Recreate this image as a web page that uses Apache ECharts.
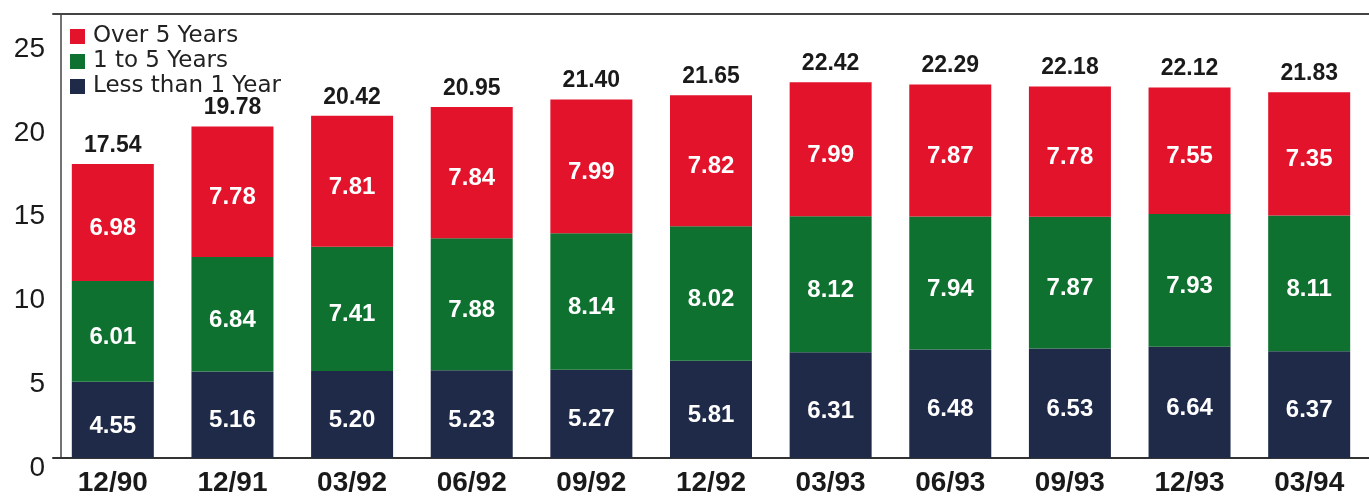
<!DOCTYPE html>
<html>
<head>
<meta charset="utf-8">
<script src="https://cdn.jsdelivr.net/npm/echarts@6/dist/echarts.min.js"></script>
<style>
  html, body { margin: 0; padding: 0; background: #fff; }
  #chart { width: 1369px; height: 497px; }
</style>
</head>
<body>
<div id="chart"></div>
<script>
const categories = ["12/90", "12/91", "03/92", "06/92", "09/92", "12/92", "03/93", "06/93", "09/93", "12/93", "03/94"]
const lessThan1 = [4.55, 5.16, 5.20, 5.23, 5.27, 5.81, 6.31, 6.48, 6.53, 6.64, 6.37]
const oneTo5 = [6.01, 6.84, 7.41, 7.88, 8.14, 8.02, 8.12, 7.94, 7.87, 7.93, 8.11]
const over5 = [6.98, 7.78, 7.81, 7.84, 7.99, 7.82, 7.99, 7.87, 7.78, 7.55, 7.35]
const totals = [17.54, 19.78, 20.42, 20.95, 21.40, 21.65, 22.42, 22.29, 22.18, 22.12, 21.83]
const yTicks = [0, 5, 10, 15, 20, 25]

const font = "Liberation Sans, Arial, sans-serif"

const innerLabel = {
    show: true,
    position: "inside",
    offset: [0, 6],
    color: "#fff",
    fontFamily: font,
    fontWeight: "bold",
    fontSize: 24,
    formatter: (p) => p.value.toFixed(2),
}

const chart = echarts.init(document.getElementById("chart"))

chart.setOption({
    animation: false,
    textStyle: { fontFamily: font },
    legend: {
        orient: "vertical",
        left: 65,
        top: 19,
        itemWidth: 15,
        itemHeight: 15,
        itemGap: 0,
        icon: "rect",
        textStyle: {
            fontFamily: "DejaVu Sans, sans-serif",
            fontSize: 23,
            lineHeight: 25,
            color: "#222",
            padding: [0, 0, 0, 3],
        },
        data: ["Over 5 Years", "1 to 5 Years", "Less than 1 Year"],
    },
    grid: {
        left: 53,
        right: -15,
        top: 14,
        bottom: 37,
    },
    xAxis: [
        {
            type: "category",
            data: categories,
            axisLine: { show: true, lineStyle: { color: "#333", width: 2 } },
            axisTick: { show: false },
            axisLabel: {
                margin: 11,
                fontSize: 28,
                fontWeight: "bold",
                color: "#1a1a1a",
            },
        },
        {
            type: "category",
            position: "top",
            data: categories,
            axisLine: { show: true, lineStyle: { color: "#444", width: 2 } },
            axisTick: { show: false },
            axisLabel: { show: false },
        },
    ],
    yAxis: {
        type: "value",
        min: 0,
        max: 26.5,
        interval: 5,
        offset: -8,
        splitLine: { show: false },
        axisLine: { show: true, lineStyle: { color: "#444", width: 1.5 } },
        axisTick: { show: false },
        axisLabel: {
            margin: 16,
            fontSize: 28,
            color: "#1a1a1a",
            verticalAlign: "top",
            lineHeight: 20,
            showMaxLabel: false,
            formatter: (v) => (yTicks.includes(v) ? String(v) : ""),
        },
    },
    series: [
        {
            name: "Less than 1 Year",
            type: "bar",
            stack: "total",
            barWidth: 82,
            itemStyle: { color: "#1f2a48" },
            label: innerLabel,
            data: lessThan1,
        },
        {
            name: "1 to 5 Years",
            type: "bar",
            stack: "total",
            barWidth: 82,
            itemStyle: { color: "#0f7130" },
            label: innerLabel,
            data: oneTo5,
        },
        {
            name: "Over 5 Years",
            type: "bar",
            stack: "total",
            barWidth: 82,
            itemStyle: { color: "#e2132b" },
            label: innerLabel,
            data: over5,
        },
        {
            name: "Total",
            type: "bar",
            stack: "total",
            barWidth: 82,
            itemStyle: { color: "transparent" },
            label: {
                show: true,
                position: "top",
                distance: 7,
                color: "#1a1a1a",
                fontFamily: font,
                fontWeight: "bold",
                fontSize: 23,
                formatter: (p) => totals[p.dataIndex].toFixed(2),
            },
            data: totals.map(() => 0),
        },
    ],
})
</script>
</body>
</html>
